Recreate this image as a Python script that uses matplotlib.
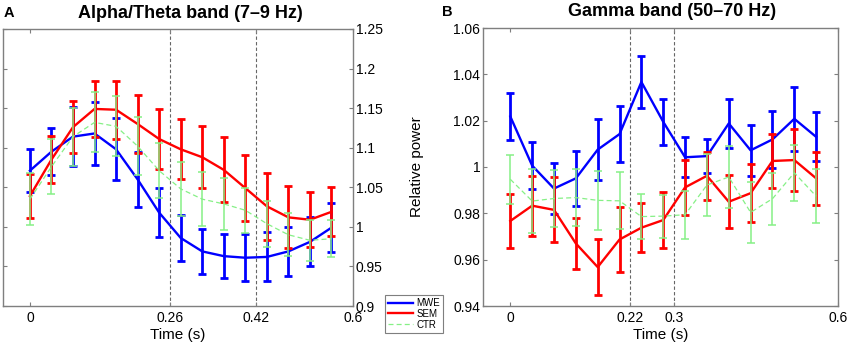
import matplotlib
matplotlib.use('Agg')
import matplotlib.pyplot as plt

plt.rcParams['font.family'] = ['Liberation Sans', 'DejaVu Sans']

# ---------------- data ----------------
time = [0.00, 0.04, 0.08, 0.12, 0.16, 0.20, 0.24, 0.28, 0.32, 0.36, 0.40, 0.44, 0.48, 0.52, 0.56]

# Panel A: Alpha/Theta band (7-9 Hz)
alpha_mwe = [1.071, 1.095, 1.114, 1.118, 1.098, 1.060, 1.018, 0.986, 0.969, 0.963, 0.961, 0.962, 0.969, 0.981, 0.999]
alpha_mwe_err = [0.027, 0.030, 0.037, 0.040, 0.039, 0.035, 0.031, 0.029, 0.028, 0.028, 0.0295, 0.031, 0.031, 0.031, 0.031]
alpha_sem = [1.039, 1.085, 1.126, 1.149, 1.148, 1.130, 1.111, 1.098, 1.088, 1.072, 1.049, 1.026, 1.012, 1.009, 1.019]
alpha_sem_err = [0.028, 0.030, 0.033, 0.035, 0.0365, 0.037, 0.038, 0.038, 0.039, 0.041, 0.042, 0.042, 0.039, 0.035, 0.031]
alpha_ctr = [1.035, 1.076, 1.114, 1.132, 1.127, 1.102, 1.071, 1.048, 1.035, 1.029, 1.021, 1.004, 0.990, 0.983, 0.985]
alpha_ctr_err = [0.033, 0.035, 0.0365, 0.038, 0.038, 0.037, 0.035, 0.034, 0.034, 0.033, 0.0285, 0.029, 0.027, 0.026, 0.0235]

# Panel B: Gamma band (50-70 Hz)
gamma_mwe = [1.0218, 1.0006, 0.9907, 0.9951, 1.0075, 1.0142, 1.0367, 1.0195, 1.0042, 1.0047, 1.0188, 1.0072, 1.0119, 1.0208, 1.0130]
gamma_mwe_err = [0.0101, 0.0100, 0.0110, 0.0119, 0.0133, 0.0122, 0.0113, 0.0099, 0.0087, 0.0073, 0.0107, 0.0110, 0.0124, 0.0137, 0.0106]
gamma_sem = [0.9767, 0.9833, 0.9815, 0.9670, 0.9568, 0.9687, 0.9738, 0.9771, 0.9912, 0.9962, 0.9850, 0.9887, 1.0026, 1.0030, 0.9951]
gamma_sem_err = [0.0118, 0.0129, 0.0140, 0.0110, 0.0120, 0.0139, 0.0106, 0.0120, 0.0119, 0.0104, 0.0114, 0.0125, 0.0117, 0.0132, 0.0115]
gamma_ctr = [0.9947, 0.9853, 0.9864, 0.9868, 0.9856, 0.9854, 0.9786, 0.9788, 0.9794, 0.9922, 0.9957, 0.9804, 0.9863, 0.9975, 0.9874]
gamma_ctr_err = [0.0106, 0.0139, 0.0125, 0.0122, 0.0128, 0.0123, 0.0098, 0.0093, 0.0104, 0.0133, 0.0134, 0.0133, 0.0113, 0.0120, 0.0117]

group_labels = ['MWE', 'SEM', 'CTR']

a_xticks = [0, 0.26, 0.42, 0.6]
a_xticklabels = ['0', '0.26', '0.42', '0.6']
a_yticks = [0.9, 0.95, 1.0, 1.05, 1.1, 1.15, 1.2, 1.25]
a_yticklabels = ['0.9', '0.95', '1', '1.05', '1.1', '1.15', '1.2', '1.25']
b_xticks = [0, 0.22, 0.3, 0.6]
b_xticklabels = ['0', '0.22', '0.3', '0.6']
b_yticks = [0.94, 0.96, 0.98, 1.0, 1.02, 1.04, 1.06]
b_yticklabels = ['0.94', '0.96', '0.98', '1', '1.02', '1.04', '1.06']

# ---------------- figure ----------------
W, H = 851, 346
fig = plt.figure(figsize=(W / 100, H / 100), dpi=100)

ax1 = fig.add_axes([3 / W, 1 - 306 / H, 350 / W, 277 / H])
ax2 = fig.add_axes([483 / W, 1 - 306 / H, 355 / W, 278 / H])

BLUE = '#0000ff'
RED = '#ff0000'
GREEN = '#86f086'
SPINE = '#7f7f7f'


def draw(ax, mwe, mwe_e, sem, sem_e, ctr, ctr_e):
    handles = []
    ax.errorbar(time, mwe, yerr=mwe_e, fmt='none', ecolor=BLUE, elinewidth=2.0,
                capsize=3.2, capthick=2.0, zorder=3)
    handles += ax.plot(time, mwe, color=BLUE, lw=1.7, zorder=3)
    ax.errorbar(time, sem, yerr=sem_e, fmt='none', ecolor=RED, elinewidth=2.0,
                capsize=3.2, capthick=2.0, zorder=4)
    handles += ax.plot(time, sem, color=RED, lw=1.7, zorder=4)
    ax.errorbar(time, ctr, yerr=ctr_e, fmt='none', ecolor=GREEN, elinewidth=1.1,
                capsize=3.2, capthick=1.1, zorder=5)
    handles += ax.plot(time, ctr, color=GREEN, lw=0.9, ls=(0, (4, 2.5)), zorder=5)
    return handles


def style(ax):
    for s in ax.spines.values():
        s.set_color(SPINE)
        s.set_linewidth(1.0)
    ax.tick_params(direction='in', length=3, width=0.8, color=SPINE,
                   labelsize=10, top=True, bottom=True, left=True, right=True)
    ax.set_xlim(-0.05, 0.6)
    ax.set_xlabel('Time (s)', fontsize=11, labelpad=2)


handles = draw(ax1, alpha_mwe, alpha_mwe_err, alpha_sem, alpha_sem_err, alpha_ctr, alpha_ctr_err)
for xv in [0.26, 0.42]:
    ax1.axvline(xv, color='#666666', lw=0.8, ls=(0, (3, 2)), zorder=1)
style(ax1)
ax1.set_ylim(0.9, 1.25)
ax1.set_xticks(a_xticks)
ax1.set_xticklabels(a_xticklabels)
ax1.set_yticks(a_yticks)
ax1.set_yticklabels(a_yticklabels)
ax1.tick_params(axis='y', labelleft=False, labelright=True, pad=2)

draw(ax2, gamma_mwe, gamma_mwe_err, gamma_sem, gamma_sem_err, gamma_ctr, gamma_ctr_err)
for xv in [0.22, 0.3]:
    ax2.axvline(xv, color='#666666', lw=0.8, ls=(0, (3, 2)), zorder=1)
style(ax2)
ax2.set_ylim(0.94, 1.06)
ax2.set_xticks(b_xticks)
ax2.set_xticklabels(b_xticklabels)
ax2.set_yticks(b_yticks)
ax2.set_yticklabels(b_yticklabels)
ax2.tick_params(axis='y', pad=2)
ax2.set_ylabel('Relative power', fontsize=11)
ax2.yaxis.set_label_coords(-0.165, 0.5)

# titles and panel letters
fig.text(190.5 / W, 1 - 13 / H, 'Alpha/Theta band (7\u20139 Hz)', ha='center', va='center',
         fontsize=13, fontweight='bold')
fig.text(672 / W, 1 - 12 / H, 'Gamma band (50\u201370 Hz)', ha='center', va='center',
         fontsize=13, fontweight='bold')
fig.text(4 / W, 1 - 13 / H, 'A', ha='left', va='center', fontsize=10.5, fontweight='bold')
fig.text(442 / W, 1 - 12 / H, 'B', ha='left', va='center', fontsize=10.5, fontweight='bold')

leg = fig.legend(handles, group_labels, loc='upper left',
                 bbox_to_anchor=(385 / W, 1 - 295 / H), bbox_transform=fig.transFigure,
                 fontsize=7, handlelength=2.6, handletextpad=0.3, borderpad=0.3,
                 labelspacing=0.1, fancybox=False, framealpha=1, borderaxespad=0)
leg.get_frame().set_edgecolor(SPINE)
leg.get_frame().set_linewidth(0.8)

fig.savefig('out.png', dpi=100)
